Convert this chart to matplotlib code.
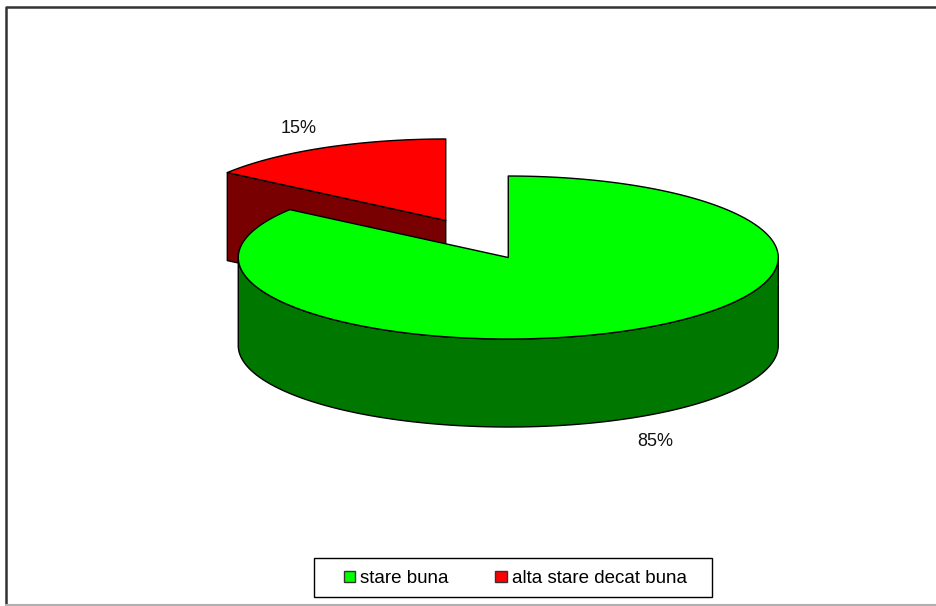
import numpy as np
import matplotlib
matplotlib.use("Agg")
import matplotlib.pyplot as plt
from matplotlib.patches import Polygon, Patch, Rectangle
from matplotlib.lines import Line2D

# donnees
categorii = ["stare buna", "alta stare decat buna"]
procente = [85, 15]
culori_sus = ["#00ff00", "#ff0000"]
culori_lat = ["#007800", "#780000"]

# geometrie (pixeli)
W, H = 936, 606
CX, CY = 477, 239      # centrul placintei
A, B = 270, 81.5       # semi-axe elipsa
ADANC = 88             # grosimea 3D
EXPLODE = 0.255
R_ETICH = 1.2

plt.rcParams['font.family'] = ['Liberation Sans', 'DejaVu Sans']

fig = plt.figure(figsize=(W / 100, H / 100), dpi=100)
ax = fig.add_axes([0, 0, 1, 1])
ax.set_xlim(0, W)
ax.set_ylim(H, 0)
ax.axis('off')

def pct(x0, y0, t):
    t = np.radians(t)
    return x0 + A * np.sin(t), y0 - B * np.cos(t)

total = sum(procente)
felii = []
start = 0.0
for i, v in enumerate(procente):
    end = start + 360.0 * v / total
    mid = (start + end) / 2
    ox = EXPLODE * A * np.sin(np.radians(mid))
    oy = -EXPLODE * B * np.cos(np.radians(mid))
    felii.append((i, start, end, mid, CX + ox, CY + oy))
    start = end

# desenare din spate in fata
felii.sort(key=lambda f: f[5])
for i, s, e, m, x0, y0 in felii:
    kw = dict(edgecolor='black', linewidth=1.0, joinstyle='round')
    # fete radiale (vizibile daca normala e spre privitor)
    for ang, norm in ((s, s - 90), (e, e + 90)):
        if np.cos(np.radians(norm)) < -1e-6:
            px, py = pct(x0, y0, ang)
            ax.add_patch(Polygon([(x0, y0), (px, py), (px, py + ADANC), (x0, y0 + ADANC)],
                                 facecolor=culori_lat[i], **kw))
    # peretele curb din fata
    a0, a1 = max(s, 90), min(e, 270)
    if a1 > a0:
        t = np.linspace(a0, a1, 200)
        xs, ys = pct(x0, y0, t)
        pts = list(zip(xs, ys)) + list(zip(xs[::-1], ys[::-1] + ADANC))
        ax.add_patch(Polygon(pts, facecolor=culori_lat[i], **kw))
    # fata de sus
    t = np.linspace(s, e, 300)
    xs, ys = pct(x0, y0, t)
    pts = [(x0, y0)] + list(zip(xs, ys))
    ax.add_patch(Polygon(pts, facecolor=culori_sus[i], **kw))
    # eticheta
    lx, ly = x0 + R_ETICH * A * np.sin(np.radians(m)), y0 - R_ETICH * B * np.cos(np.radians(m))
    if np.cos(np.radians(m)) < 0:
        ly += ADANC * 1.1
    else:
        ly -= 5
    ax.text(lx, ly, f"{procente[i]}%", ha='center', va='center', fontsize=13, color='#111111')

# chenarul exterior
ax.add_line(Line2D([W + 5, 6, 6], [7, 7, 604], color='#333333', linewidth=1.8))
ax.add_line(Line2D([6, W + 5], [605, 605], color='#b0b0b0', linewidth=1.5))

# legenda
ax.add_patch(Rectangle((314, 558), 398, 39, facecolor='white', edgecolor='black', linewidth=1.0))
handles = [Patch(facecolor=c, edgecolor='#333333', linewidth=1.0) for c in culori_sus]
leg = fig.legend(handles, categorii, loc='center', bbox_to_anchor=(0.5505, 0.0455), ncol=2,
                 frameon=False, fontsize=13.5,
                 handlelength=0.62, handleheight=0.57, handletextpad=0.25, columnspacing=2.5,
                 borderpad=0.3)

fig.savefig("out.png", dpi=100)
